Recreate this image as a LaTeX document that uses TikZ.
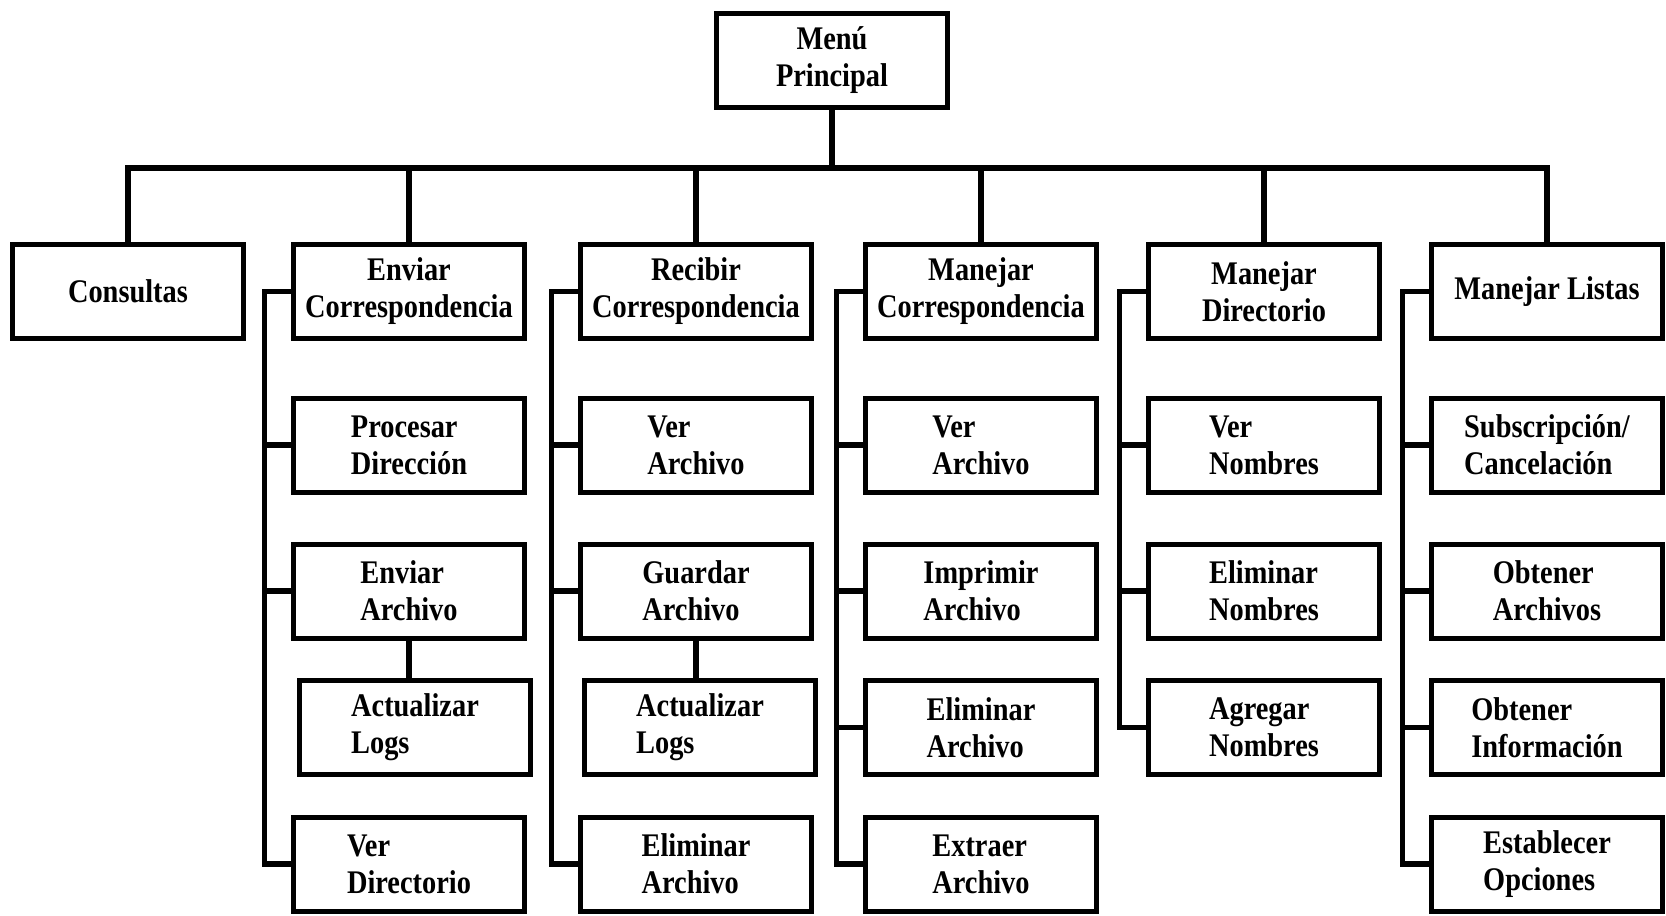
\documentclass[tikz,border=0pt]{standalone}
\usepackage{fontspec}
\newfontfamily\boxfont{Liberation Serif}[FakeStretch=0.86]
\begin{document}
\begin{tikzpicture}[x=0.5pt,y=-0.5pt,
  box/.style={draw, line width=2.5pt, minimum width=115.5pt, minimum height=47pt,
    inner sep=0pt, font=\boxfont\bfseries\fontsize{16.5}{18.5}\selectfont},
  topbox/.style={box, align=center},
  subbox/.style={box, align=left},
  link/.style={line width=2.8pt, line join=miter}
]
\useasboundingbox (0,0) rectangle (1666,916);

% root
\node[topbox] (menu) at (832,60) {Menú\\Principal};

% first level
\node[topbox] (consultas) at (128,291.5) {Consultas};
\node[topbox] (enviar)    at (409,291.5) {Enviar\\Correspondencia};
\node[topbox] (recibir)   at (696,291.5) {Recibir\\Correspondencia};
\node[topbox] (manc)      at (981,291.5) {Manejar\\Correspondencia};
\node[topbox] (mandir)    at (1264,291.5) {Manejar\\Directorio};
\node[topbox] (listas)    at (1547,291.5) {Manejar Listas};

% Enviar Correspondencia
\node[subbox] (procdir) at (409,445)   {Procesar\\Dirección};
\node[subbox] (envarch) at (409,591)   {Enviar\\Archivo};
\node[subbox] (alogA)   at (415,727.5) {Actualizar\\Logs};
\node[subbox] (verdir)  at (409,864)   {Ver\\Directorio};

% Recibir Correspondencia
\node[subbox] (verarchA) at (696,445)   {Ver\\Archivo};
\node[subbox] (guarch)   at (696,591)   {Guardar\\Archivo};
\node[subbox] (alogB)    at (700,727.5) {Actualizar\\Logs};
\node[subbox] (elarchA)  at (696,864)   {Eliminar\\Archivo};

% Manejar Correspondencia
\node[subbox] (verarchB) at (981,445)   {Ver\\Archivo};
\node[subbox] (imparch)  at (981,591)   {Imprimir\\Archivo};
\node[subbox] (elarchB)  at (981,727.5) {Eliminar\\Archivo};
\node[subbox] (extarch)  at (981,864)   {Extraer\\Archivo};

% Manejar Directorio
\node[subbox] (vernom) at (1264,445)   {Ver\\Nombres};
\node[subbox] (elnom)  at (1264,591)   {Eliminar\\Nombres};
\node[subbox] (agrnom) at (1264,727.5) {Agregar\\Nombres};

% Manejar Listas
\node[subbox] (subs)    at (1547,445)   {Subscripción/\\Cancelación};
\node[subbox] (obtarch) at (1547,591)   {Obtener\\Archivos};
\node[subbox] (obtinf)  at (1547,727.5) {Obtener\\Información};
\node[subbox] (estop)   at (1547,864)   {Establecer\\Opciones};

% bus under the root
\coordinate (bus) at (832,168);
\draw[link] (menu.south) -- (bus);
\foreach \n in {consultas,enviar,recibir,manc,mandir,listas}
  \draw[link] (bus) -| (\n.north);

% side trunks of each column
\foreach \p/\kids in {enviar/{procdir,envarch,verdir},
                      recibir/{verarchA,guarch,elarchA},
                      manc/{verarchB,imparch,elarchB,extarch},
                      mandir/{vernom,elnom,agrnom},
                      listas/{subs,obtarch,obtinf,estop}}{
  \coordinate (t-\p) at ([xshift=-13.25pt]\p.west);
  \foreach \k in \kids
    \draw[link] (\p.west) -- (t-\p) |- (\k.west);
}

% hanging sub-items
\draw[link] (envarch.south) -- (envarch.south |- alogA.north);
\draw[link] (guarch.south) -- (guarch.south |- alogB.north);
\end{tikzpicture}
\end{document}
